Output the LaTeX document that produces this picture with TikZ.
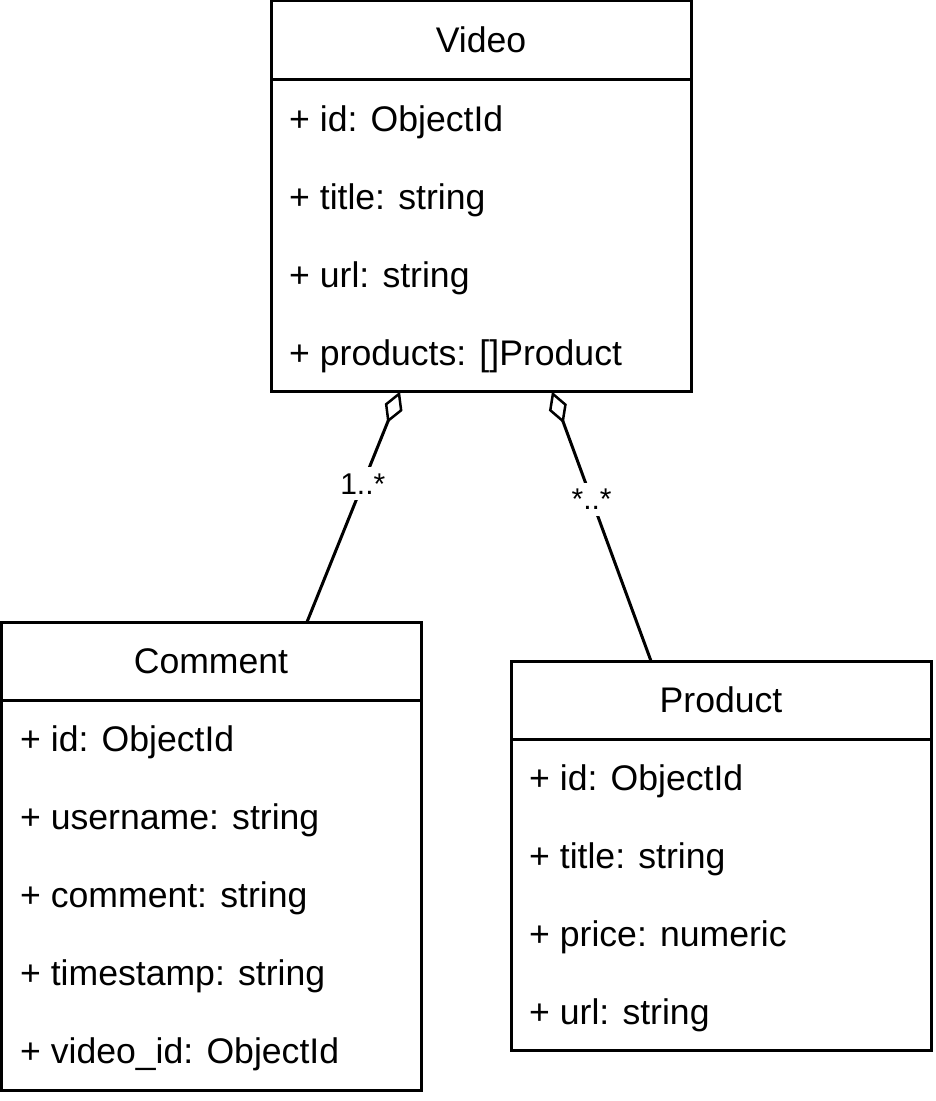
\documentclass[tikz,border=0pt]{standalone}
\usepackage{fontspec}
\setmainfont{Liberation Sans}
\usetikzlibrary{positioning, arrows.meta, calc}

\tikzset{
  classhead/.style={draw, line width=3pt, outer sep=0pt, minimum width=420pt, inner sep=0pt, font=\fontsize{35.6}{42}\selectfont},
  classbody/.style={draw, line width=3pt, outer sep=0pt, minimum width=420pt, inner sep=0pt},
  attr/.style={anchor=base west, inner sep=0pt, font=\fontsize{35.6}{42}\selectfont},
  mult/.style={fill=white, inner sep=6pt, font=\fontsize{30}{36}\selectfont},
  aggr/.style={line width=3pt, {Diamond[open, length=34pt, width=19pt, line width=2.5pt]}-},
}

\begin{document}
\begin{tikzpicture}[x=1pt, y=-1pt]
    \useasboundingbox (0,0) rectangle (936,1101);

    % classes
    \node[classhead, minimum height=79pt] (videohead) at (481,40) {Video};
    \node[classbody, minimum height=312pt] (videobody) [below=0pt of videohead] {};
    \node[classhead, minimum height=78pt] (commenthead) at (211,661) {Comment};
    \node[classbody, minimum height=390pt] (commentbody) [below=0pt of commenthead] {};
    \node[classhead, minimum height=78pt] (producthead) at (721,700) {Product};
    \node[classbody, minimum height=311pt] (productbody) [below=0pt of producthead] {};

    % attributes
    \foreach \t [count=\i] in {+ id: ObjectId, + title: string, + url: string, + products: []Product}
        \node[attr] (video-\i) at ($(videobody.north west)+(18,{52+78*(\i-1)})$) {\t};
    \foreach \t [count=\i] in {+ id: ObjectId, + username: string, + comment: string, + timestamp: string, + video\_id: ObjectId}
        \node[attr] (comment-\i) at ($(commentbody.north west)+(19,{51+78*(\i-1)})$) {\t};
    \foreach \t [count=\i] in {+ id: ObjectId, + title: string, + price: numeric, + url: string}
        \node[attr] (product-\i) at ($(productbody.north west)+(18,{51+78*(\i-1)})$) {\t};

    % aggregations
    \draw[aggr] ([xshift=-81pt]videobody.south) -- node[mult, pos=0.4] {1..*} ([xshift=96pt]commenthead.north);
    \draw[aggr] ([xshift=71pt]videobody.south) -- node[mult, pos=0.4] {*..*} ([xshift=-70pt]producthead.north);
\end{tikzpicture}
\end{document}
